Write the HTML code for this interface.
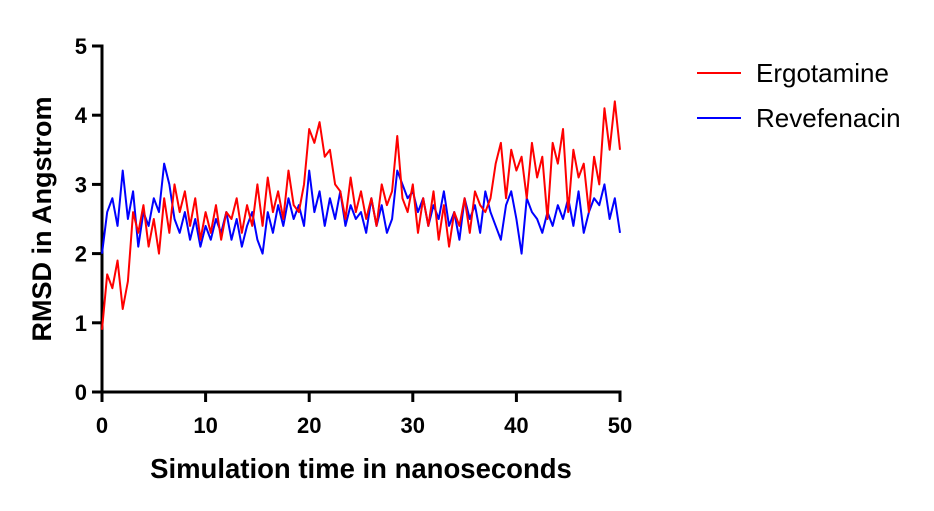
<!DOCTYPE html>
<html><head><meta charset="utf-8"><style>
body{margin:0;background:#fff;}
svg{display:block;font-family:"Liberation Sans",Arial,sans-serif;}
</style></head><body>
<svg id="chart" width="934" height="511">
<g id="axes"></g>
<g id="series"></g>
<text x="361" y="478" font-size="27.5" font-weight="bold" text-anchor="middle">Simulation time in nanoseconds</text>
<text transform="translate(51,219) rotate(-90)" font-size="27" font-weight="bold" text-anchor="middle">RMSD in Angstrom</text>
<g>
<g><line x1="697" y1="73" x2="741" y2="73" stroke="#ff0000" stroke-width="2"/><text x="756" y="82" font-size="26">Ergotamine</text></g>
<g><line x1="697" y1="118" x2="741" y2="118" stroke="#0000ff" stroke-width="2"/><text x="756" y="127" font-size="26">Revefenacin</text></g>
</g>
</svg>
<script>
const xTicks=[0,10,20,30,40,50];
const yTicks=[0,1,2,3,4,5];
const times=[];for(let i=0;i<=100;i++)times.push(i*0.5);
const ergotamine=[0.9,1.7,1.5,1.9,1.2,1.6,2.6,2.3,2.7,2.1,2.5,2.0,2.8,2.3,3.0,2.6,2.9,2.4,2.8,2.2,2.6,2.3,2.7,2.2,2.6,2.5,2.8,2.3,2.7,2.4,3.0,2.4,3.1,2.6,2.9,2.5,3.2,2.7,2.6,3.0,3.8,3.6,3.9,3.4,3.5,3.0,2.9,2.5,3.1,2.6,2.9,2.5,2.8,2.4,3.0,2.7,2.9,3.7,2.8,2.6,3.0,2.3,2.8,2.4,2.9,2.2,2.7,2.1,2.6,2.4,2.8,2.3,2.9,2.7,2.6,2.8,3.3,3.6,2.8,3.5,3.2,3.4,2.8,3.6,3.1,3.4,2.5,3.6,3.3,3.8,2.6,3.5,3.1,3.3,2.6,3.4,3.0,4.1,3.5,4.2,3.5];
const revefenacin=[2.0,2.6,2.8,2.4,3.2,2.5,2.9,2.1,2.6,2.4,2.8,2.6,3.3,3.0,2.5,2.3,2.6,2.2,2.5,2.1,2.4,2.2,2.5,2.3,2.6,2.2,2.5,2.1,2.4,2.6,2.2,2.0,2.6,2.3,2.7,2.4,2.8,2.5,2.7,2.4,3.2,2.6,2.9,2.4,2.8,2.5,2.9,2.4,2.7,2.5,2.6,2.3,2.8,2.4,2.7,2.3,2.5,3.2,3.0,2.8,2.9,2.6,2.8,2.4,2.7,2.5,2.9,2.4,2.6,2.2,2.8,2.5,2.7,2.3,2.9,2.6,2.4,2.2,2.7,2.9,2.5,2.0,2.8,2.6,2.5,2.3,2.6,2.4,2.7,2.5,2.8,2.4,2.9,2.3,2.6,2.8,2.7,3.0,2.5,2.8,2.3];
const X0=102,X1=620,Y0=392,Y1=46;
const sx=v=>X0+(v-0)/(50-0)*(X1-X0);
const sy=v=>Y0-(v-0)/(5-0)*(Y0-Y1);
const NS="http://www.w3.org/2000/svg";
const axes=document.getElementById('axes'),series=document.getElementById('series');
function mk(tag,attrs,parent){const e=document.createElementNS(NS,tag);for(const k in attrs)e.setAttribute(k,attrs[k]);parent.appendChild(e);return e;}
function draw(vals,color,name){
  const p=mk('polyline',{points:vals.map((v,i)=>sx(times[i])+','+sy(v)).join(' '),fill:'none',stroke:color,'stroke-width':2,'stroke-linejoin':'round'},series);
  
  
}
draw(revefenacin,'#0000ff','revefenacin-line');
draw(ergotamine,'#ff0000','ergotamine-line');
const xa=mk('line',{x1:X0-1.5,y1:Y0,x2:X1+1.5,y2:Y0,stroke:'#000','stroke-width':3},axes);


const ya=mk('line',{x1:X0,y1:Y0+1.5,x2:X0,y2:Y1-1.5,stroke:'#000','stroke-width':3},axes);


xTicks.forEach(t=>{
  mk('line',{x1:sx(t),y1:Y0,x2:sx(t),y2:Y0+10,stroke:'#000','stroke-width':3},axes);
  const tx=mk('text',{x:sx(t),y:Y0+41,'font-size':22,'font-weight':'bold','text-anchor':'middle'},axes);
  tx.textContent=t;
  
  
});
yTicks.forEach(t=>{
  mk('line',{x1:X0-10,y1:sy(t),x2:X0,y2:sy(t),stroke:'#000','stroke-width':3},axes);
  const tx=mk('text',{x:X0-15,y:sy(t)+8,'font-size':22,'font-weight':'bold','text-anchor':'end'},axes);
  tx.textContent=t;
  
  
});
</script>
</body></html>
